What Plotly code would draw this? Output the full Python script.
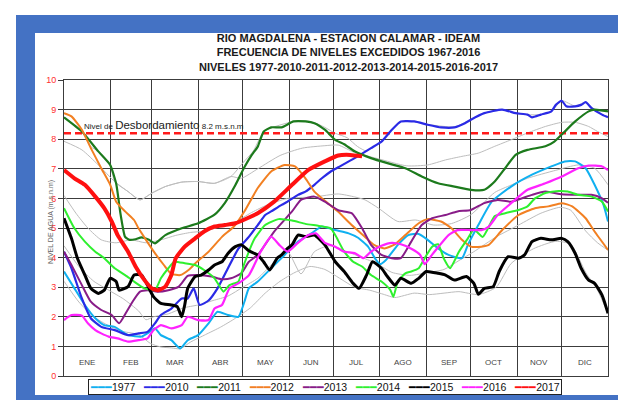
import plotly.graph_objects as go

# ---------------- data ----------------
MONTHS = ["ENE", "FEB", "MAR", "ABR", "MAY", "JUN", "JUL", "AGO", "SEP", "OCT", "NOV", "DIC"]
MONTH_STARTS = [0, 31, 59, 90, 120, 151, 181, 212, 243, 273, 304, 334, 365]
Y_TICKS = list(range(0, 11))
FLOOD_LEVEL = 8.2

TITLE_LINES = ["RIO MAGDALENA - ESTACION CALAMAR - IDEAM",
               "FRECUENCIA DE NIVELES EXCEDIDOS 1967-2016",
               "NIVELES 1977-2010-2011-2012-2013-2014-2015-2016-2017"]

# percentile / envelope curves (1967-2016)
PCT_NAMES = ["MAX", "10%", "50%", "90%", "MIN"]
MAX_D = [0, 5, 12, 18, 23, 31, 34, 43, 51, 59, 68, 79, 90, 101, 112, 120, 127, 134, 140, 154, 162, 168, 175, 182,
         190, 197, 203, 206, 213, 220, 226, 235, 244, 262, 273, 282, 294, 303, 311, 320, 327, 334, 343, 350, 356,
         365]
MAX_V = [8.88, 8.77, 8.32, 7.75, 7.59, 7.13, 6.57, 6.23, 5.95, 6.18, 6.40, 6.55, 6.57, 6.51, 6.74, 7.2, 7.6, 8.26,
         8.4, 8.6, 8.62, 8.56, 8.4, 8.2, 8.05, 7.75, 7.6, 7.70, 7.92, 8.32, 8.6, 8.6, 8.5, 8.42, 8.66, 8.88, 9.0,
         8.88, 8.83, 8.83, 8.94, 9.3, 9.12, 9.25, 9.0, 8.94]
P10_D = [0, 12, 23, 34, 43, 51, 59, 68, 79, 90, 101, 112, 119, 130, 145, 160, 175, 184, 195, 210, 230, 244, 256,
         267, 278, 289, 300, 311, 323, 334, 343, 352, 358, 365]
P10_V = [7.93, 7.64, 7.13, 6.57, 6.23, 5.95, 6.18, 6.40, 6.55, 6.57, 6.51, 6.74, 6.68, 7.0, 7.45, 7.7, 7.78, 7.8,
         7.55, 7.35, 7.1, 7.13, 7.30, 7.42, 7.53, 7.76, 7.98, 8.21, 8.43, 8.57, 8.57, 8.43, 8.26, 8.09]
P50_D = [0, 8, 16, 25, 35, 45, 55, 65, 75, 85, 95, 105, 115, 125, 135, 150, 168, 184, 195, 202, 211, 224, 236,
         248, 260, 273, 289, 300, 311, 330, 345, 356, 365]
P50_V = [6.1, 5.5, 5.0, 4.6, 4.5, 4.6, 4.5, 4.6, 4.75, 4.85, 4.9, 5.05, 5.2, 5.5, 5.75, 6.0, 6.05, 6.15, 6.05,
         5.95, 5.67, 5.22, 5.27, 5.1, 5.15, 5.45, 6.2, 6.45, 6.68, 6.95, 7.13, 7.02, 6.46]
P90_D = [0, 10, 20, 30, 40, 50, 55, 60, 70, 80, 90, 100, 110, 120, 130, 140, 150, 159, 168, 178, 190, 200, 210,
         220, 232, 245, 255, 265, 275, 290, 305, 320, 333, 340, 350, 358, 365]
P90_V = [4.4, 3.7, 3.2, 2.9, 2.6, 2.2, 1.9, 2.0, 2.1, 2.3, 2.4, 2.55, 2.7, 3.0, 3.3, 3.8, 4.2, 3.45, 4.2, 4.4,
         4.2, 4.0, 3.8, 3.5, 3.4, 3.5, 3.6, 3.9, 4.2, 4.7, 5.1, 5.5, 5.7, 5.6, 4.9, 4.5, 4.25]
MIN_D = [0, 10, 20, 30, 40, 50, 58, 65, 72, 78, 85, 95, 105, 115, 125, 135, 145, 155, 165, 175, 185, 195, 205,
         215, 222, 235, 245, 255, 265, 278, 290, 300, 315, 330, 340, 350, 358, 365]
MIN_V = [3.2, 2.5, 2.0, 1.7, 1.5, 1.4, 1.1, 0.98, 0.95, 0.92, 1.15, 1.4, 1.65, 1.95, 2.3, 2.8, 3.2, 3.5, 3.7,
         3.6, 3.3, 3.0, 2.9, 2.75, 2.65, 2.8, 2.75, 2.8, 2.85, 2.75, 3.0, 3.8, 4.3, 4.55, 4.45, 3.5, 2.9, 2.1]

# yearly series (day of year, level in m.s.n.m)
YEARS = ["1977", "2010", "2011", "2012", "2013", "2014", "2015", "2016", "2017"]
COLORS = ["#10b0f0", "#2a2ae6", "#1c7a1c", "#f28022", "#881c88", "#2ef02e", "#000000", "#ff22ff", "#ff1010"]

D1977 = [0, 7, 14, 21, 27, 34, 43, 52, 56, 61, 65, 72, 78, 83, 90, 97, 103, 110, 117, 121, 124, 130, 139, 148,
         157, 166, 173, 182, 191, 197, 204, 209, 212, 216, 224, 231, 238, 244, 251, 258, 267, 271, 278, 287, 300,
         314, 327, 336, 343, 350, 356, 362, 365]
V1977 = [3.53, 2.96, 2.40, 1.95, 1.72, 1.66, 1.38, 1.33, 1.44, 1.61, 1.38, 1.21, 0.93, 1.21, 1.38, 1.78, 2.17,
         2.06, 2.0, 2.50, 2.96, 3.19, 3.64, 4.09, 4.54, 4.82, 5.05, 4.93, 4.82, 4.68, 4.37, 3.95, 3.78, 3.92, 4.43,
         4.76, 4.80, 4.60, 4.31, 4.09, 3.98, 4.43, 5.10, 5.89, 6.40, 6.80, 7.08, 7.25, 7.25, 7.02, 6.46, 5.78, 5.22]
D2010 = [0, 5, 12, 18, 25, 34, 43, 50, 56, 61, 65, 72, 79, 83, 87, 91, 97, 103, 110, 117, 124, 130, 135, 139,
         146, 150, 157, 162, 168, 173, 179, 184, 195, 206, 213, 220, 226, 235, 244, 253, 262, 269, 273, 282, 294,
         303, 311, 314, 320, 327, 330, 334, 337, 343, 347, 350, 354, 361, 365]
V2010 = [4.2, 3.64, 2.62, 1.95, 1.66, 1.55, 1.38, 1.44, 1.49, 1.78, 2.06, 2.28, 2.62, 2.62, 2.96, 2.40, 2.55,
         2.96, 3.64, 4.3, 4.7, 5.1, 5.44, 5.56, 5.78, 5.89, 6.12, 6.23, 6.46, 6.68, 6.91, 7.05, 7.36, 7.70, 7.92,
         8.32, 8.60, 8.60, 8.49, 8.40, 8.40, 8.54, 8.66, 8.88, 9.0, 8.88, 8.83, 8.74, 8.83, 8.94, 9.16, 9.30, 9.11,
         9.11, 9.16, 9.25, 9.05, 8.83, 8.74]
D2011 = [0, 12, 23, 31, 35, 38, 41, 44, 48, 52, 57, 61, 68, 79, 90, 101, 108, 115, 121, 126, 130, 134, 139, 146,
         154, 162, 168, 175, 182, 188, 195, 206, 217, 229, 240, 251, 262, 273, 282, 289, 296, 303, 311, 323, 329,
         336, 343, 352, 356, 365]
V2011 = [8.74, 8.26, 7.59, 7.13, 6.5, 5.45, 4.7, 4.6, 4.62, 4.68, 4.6, 4.48, 4.76, 4.99, 5.16, 5.45, 5.85, 6.45,
         7.05, 7.47, 7.75, 8.26, 8.40, 8.40, 8.60, 8.60, 8.54, 8.32, 7.98, 7.83, 7.59, 7.36, 7.19, 7.02, 6.74, 6.51,
         6.40, 6.29, 6.29, 6.57, 7.02, 7.47, 7.64, 7.76, 7.92, 8.26, 8.60, 8.94, 9.0, 8.94]
D2012 = [0, 5, 12, 18, 25, 31, 35, 41, 47, 50, 55, 61, 67, 72, 78, 84, 88, 97, 106, 114, 121, 130, 139, 148, 155,
         162, 168, 177, 184, 193, 202, 208, 215, 222, 229, 238, 244, 253, 260, 267, 273, 280, 285, 294, 305, 316,
         325, 334, 341, 350, 356, 365]
V2012 = [8.88, 8.77, 8.32, 7.70, 7.02, 6.46, 5.89, 5.56, 5.27, 4.99, 4.60, 4.15, 3.75, 3.45, 3.41, 3.60, 3.80,
         4.20, 4.70, 5.05, 5.56, 6.35, 6.91, 7.13, 7.08, 6.68, 6.23, 5.84, 5.55, 5.10, 4.70, 4.43, 4.31, 4.45, 4.76,
         5.16, 5.30, 5.22, 4.99, 4.60, 4.37, 4.37, 4.43, 4.93, 5.44, 5.67, 5.73, 5.84, 5.73, 5.33, 4.88, 4.26]
D2013 = [0, 5, 12, 18, 25, 32, 37, 42, 46, 51, 56, 63, 70, 77, 83, 90, 99, 106, 112, 119, 124, 130, 141, 153,
         159, 168, 175, 184, 193, 200, 206, 213, 220, 226, 233, 240, 247, 256, 264, 273, 282, 291, 300, 314, 323,
         334, 345, 354, 361, 365]
V2013 = [4.2, 3.75, 3.07, 2.51, 2.23, 2.06, 1.78, 2.17, 2.51, 2.85, 2.90, 2.85, 2.90, 3.02, 3.38, 3.41, 3.36,
         3.27, 3.30, 3.47, 3.86, 4.09, 4.88, 5.56, 5.95, 6.06, 5.89, 5.60, 5.50, 4.99, 4.43, 4.09, 3.98, 3.98, 4.54,
         5.10, 5.33, 5.44, 5.56, 5.61, 5.84, 5.95, 5.89, 6.12, 6.23, 6.14, 6.12, 6.12, 6.0, 5.85]
D2014 = [0, 7, 14, 21, 27, 34, 41, 47, 54, 61, 65, 70, 74, 81, 88, 94, 101, 107, 111, 117, 121, 128, 135, 144,
         153, 162, 171, 179, 182, 188, 194, 200, 206, 213, 219, 221, 224, 229, 233, 238, 242, 247, 251, 255, 259,
         265, 271, 275, 281, 289, 296, 305, 311, 316, 323, 332, 338, 345, 354, 361, 365]
V2014 = [5.67, 4.99, 4.54, 4.20, 3.98, 3.64, 3.41, 3.19, 2.96, 2.90, 3.30, 3.64, 3.86, 3.81, 3.75, 3.58, 3.30,
         2.85, 3.07, 3.19, 3.80, 4.65, 5.10, 5.30, 5.25, 5.14, 5.07, 4.99, 4.76, 4.20, 3.86, 3.70, 3.41, 3.19, 2.90,
         2.68, 3.19, 3.47, 3.53, 3.64, 3.98, 4.37, 4.45, 3.95, 3.64, 4.20, 4.65, 4.95, 4.70, 5.40, 5.50, 5.61, 5.73,
         6.0, 6.18, 6.25, 6.23, 6.12, 6.06, 5.89, 5.56]
D2015 = [0, 5, 9, 14, 18, 23, 27, 31, 35, 37, 43, 47, 52, 56, 60, 65, 72, 76, 79, 81, 83, 88, 92, 97, 101, 106,
         110, 115, 119, 124, 130, 134, 138, 143, 146, 150, 153, 157, 162, 168, 175, 182, 188, 194, 198, 203, 207,
         213, 217, 222, 226, 233, 238, 243, 251, 256, 262, 270, 275, 278, 282, 288, 292, 298, 305, 309, 314, 320,
         327, 334, 338, 343, 347, 352, 356, 361, 365]
V2015 = [5.33, 4.65, 3.98, 3.41, 2.96, 2.79, 2.90, 3.30, 3.19, 2.90, 3.02, 3.41, 3.41, 3.07, 2.68, 2.45, 2.40,
         2.34, 2.0, 2.40, 2.96, 3.36, 3.41, 3.58, 3.75, 3.86, 4.14, 4.37, 4.43, 4.23, 4.09, 3.85, 3.58, 3.98, 4.09,
         4.31, 4.43, 4.76, 4.71, 4.76, 4.43, 3.86, 3.53, 3.13, 2.96, 3.41, 3.86, 3.64, 3.36, 3.07, 3.30, 3.13, 3.30,
         3.53, 3.47, 3.41, 3.24, 3.36, 3.13, 2.76, 2.96, 3.02, 3.53, 4.03, 3.98, 4.09, 4.54, 4.65, 4.60, 4.65, 4.54,
         4.14, 3.64, 3.24, 3.13, 2.73, 2.12]
D2016 = [0, 5, 12, 16, 21, 25, 30, 36, 43, 50, 56, 60, 65, 72, 79, 83, 90, 97, 101, 106, 111, 117, 124, 132, 139,
         145, 150, 157, 164, 169, 175, 182, 188, 195, 201, 206, 213, 220, 226, 233, 239, 242, 247, 251, 258, 264,
         273, 280, 285, 291, 300, 311, 323, 334, 345, 352, 361, 365]
V2016 = [1.89, 2.06, 2.04, 1.78, 1.55, 1.44, 1.33, 1.27, 1.16, 1.21, 1.27, 1.55, 1.72, 1.61, 1.72, 2.0, 1.89,
         1.89, 2.28, 2.40, 2.96, 3.13, 3.40, 4.20, 4.71, 4.40, 4.20, 4.50, 4.76, 4.82, 4.50, 4.37, 4.20, 4.15, 3.98,
         4.20, 4.40, 4.50, 4.45, 4.30, 4.09, 3.78, 4.10, 4.35, 4.76, 4.93, 4.93, 4.93, 5.05, 5.44, 5.84, 6.29, 6.51,
         6.74, 7.02, 7.11, 7.08, 6.96]
D2017 = [0, 7, 14, 21, 27, 32, 36, 43, 48, 54, 59, 63, 68, 72, 75, 81, 88, 94, 101, 108, 115, 123, 130, 141, 153,
         164, 175, 184, 192, 200]
V2017 = [6.96, 6.68, 6.46, 6.06, 5.67, 5.22, 4.76, 4.20, 3.70, 3.24, 2.96, 2.90, 3.02, 3.41, 3.98, 4.37, 4.65,
         4.88, 5.05, 5.10, 5.16, 5.33, 5.50, 5.89, 6.46, 6.96, 7.25, 7.45, 7.47, 7.42]

# ---------------- figure ----------------
FONT = "Liberation Sans, Arial, sans-serif"
W, H = 626, 400
ML, MR, MT, MB = 56, 26, 72, 32
GRID = "#3c3c3c"


def px_x(px):
    return (px - ML) / (W - ML - MR)


def px_y(py):
    return (H - MB - py) / (H - MT - MB)


fig = go.Figure()

pct_series = [(MAX_D, MAX_V), (P10_D, P10_V), (P50_D, P50_V), (P90_D, P90_V), (MIN_D, MIN_V)]
for name, (d, v) in zip(PCT_NAMES, pct_series):
    fig.add_trace(go.Scatter(x=d, y=v, mode="lines", name=name, showlegend=False,
                             line=dict(color="#bdbdbd", width=1, shape="spline", smoothing=0.6),
                             hoverinfo="skip"))

fig.add_trace(go.Scatter(x=[MONTH_STARTS[0], MONTH_STARTS[-1]], y=[FLOOD_LEVEL, FLOOD_LEVEL], mode="lines",
                         showlegend=False, line=dict(color="#ff1a1a", width=2.5, dash="7px,4px")))

year_days = [D1977, D2010, D2011, D2012, D2013, D2014, D2015, D2016, D2017]
year_vals = [V1977, V2010, V2011, V2012, V2013, V2014, V2015, V2016, V2017]
year_widths = [2, 2.2, 2.2, 2, 2, 2, 3, 2.2, 4]
for name, d, v, c, w in zip(YEARS, year_days, year_vals, COLORS, year_widths):
    fig.add_trace(go.Scatter(x=d, y=v, mode="lines", name=name, showlegend=False,
                             line=dict(color=c, width=w, shape="spline", smoothing=0.5)))

annotations = []
# title
annotations.append(dict(xref="paper", yref="paper", x=px_x(340), y=px_y(22), xanchor="center", yanchor="top",
                        showarrow=False, align="center",
                        text="<br>".join("<b>%s</b>" % t for t in TITLE_LINES),
                        font=dict(family=FONT, size=11, color="#1a1a1a")))
# flood level label
annotations.append(dict(xref="x", yref="y", x=12, y=FLOOD_LEVEL + 0.28, xanchor="left", yanchor="middle",
                        showarrow=False,
                        text=("<span style='font-size:8px'>Nivel de </span>Desbordamiento"
                              "<span style='font-size:8px'> %s m.s.n.m</span>" % FLOOD_LEVEL),
                        font=dict(family=FONT, size=11.5, color="#1a1a1a")))
# month labels
for i, m in enumerate(MONTHS):
    annotations.append(dict(xref="x", yref="y", x=(MONTH_STARTS[i] + MONTH_STARTS[i + 1]) / 2, y=0.47,
                            showarrow=False, text=m, font=dict(family=FONT, size=8, color="#444")))
# percentile labels at the right
for name, (d, v) in zip(PCT_NAMES, pct_series):
    annotations.append(dict(xref="x", yref="y", x=d[-1] + 1, y=v[-1], xanchor="left", yanchor="middle",
                            yshift=-2, showarrow=False, text=name,
                            font=dict(family=FONT, size=6.5, color="#666")))
# y axis title
annotations.append(dict(xref="paper", yref="y", x=px_x(37), y=5.2, textangle=-90, showarrow=False,
                        text="NIVEL DE AGUA (m.s.n.m)", font=dict(family=FONT, size=7, color="#666")))
# legend box
legend_text = "\u00a0\u00a0\u00a0".join(
    "<span style='color:%s'>━━━</span>%s" % (c, n) for n, c in zip(YEARS, COLORS))
annotations.append(dict(xref="paper", yref="paper", x=px_x(317), y=px_y(379), xanchor="center",
                        yanchor="middle", showarrow=False, text=legend_text,
                        font=dict(family=FONT, size=10.5, color="#111"),
                        bgcolor="white", bordercolor="#222", borderwidth=1, borderpad=1))

shapes = [
    dict(type="rect", xref="paper", yref="paper", x0=px_x(8), x1=px_x(660), y0=px_y(420), y1=px_y(7),
         fillcolor="#4472c4", line=dict(width=0), layer="below"),
    dict(type="rect", xref="paper", yref="paper", x0=px_x(27), x1=px_x(617), y0=px_y(387), y1=px_y(25),
         fillcolor="white", line=dict(width=0), layer="below"),
]

fig.update_layout(
    width=W, height=H,
    margin=dict(l=ML, r=MR, t=MT, b=MB, autoexpand=False),
    paper_bgcolor="white", plot_bgcolor="rgba(0,0,0,0)",
    showlegend=False,
    annotations=annotations,
    shapes=shapes,
    font=dict(family=FONT),
    xaxis=dict(range=[MONTH_STARTS[0], MONTH_STARTS[-1]], tickvals=MONTH_STARTS, showticklabels=False,
               showgrid=True, gridcolor=GRID, gridwidth=1, zeroline=False, ticks="",
               showline=True, linecolor=GRID, linewidth=1, mirror=True, fixedrange=True),
    yaxis=dict(range=[0, 10], tickvals=Y_TICKS, showgrid=True, gridcolor=GRID, gridwidth=1,
               zeroline=False, ticks="outside", ticklen=5, tickcolor=GRID,
               tickfont=dict(family=FONT, size=9, color="#ff3030"),
               showline=True, linecolor=GRID, linewidth=1, mirror=True, fixedrange=True),
)

fig.write_html("out.html")
